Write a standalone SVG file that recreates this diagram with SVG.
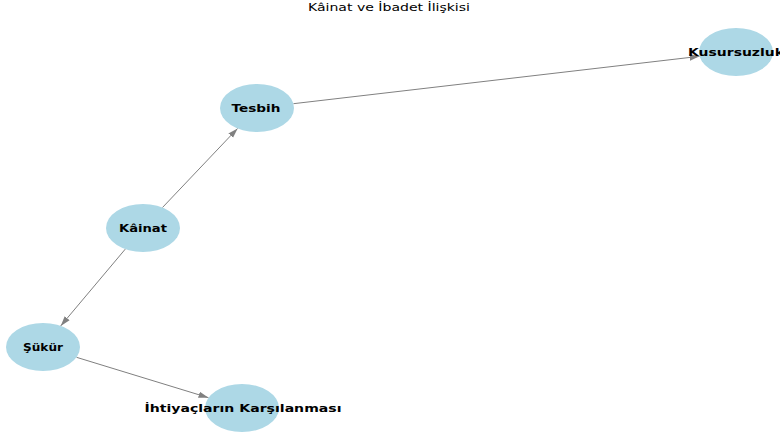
<svg xmlns="http://www.w3.org/2000/svg" width="780" height="437" viewBox="0 0 780 437">
<style>
.n{fill:#add8e6;}
.l{font-family:"DejaVu Sans",sans-serif;font-weight:bold;font-size:11px;fill:#000;text-anchor:middle;dominant-baseline:central;}
.t{font-family:"DejaVu Sans",sans-serif;font-size:11px;fill:#000;text-anchor:middle;}
.e{stroke:#808080;stroke-width:1;fill:none;marker-end:url(#a);}
</style>
<defs>
<marker id="a" markerWidth="10" markerHeight="8" refX="10" refY="4" orient="auto" markerUnits="userSpaceOnUse">
<path d="M0,0.8 L10,4 L0,7.2 Z" fill="#808080"/>
</marker>
</defs>
<rect width="780" height="437" fill="#fff"/>
<text class="t" x="389" y="11" textLength="162" lengthAdjust="spacingAndGlyphs">Kâinat ve İbadet İlişkisi</text>
<g id="edges">
<line class="e" x1="162.4" y1="207.6" x2="237.6" y2="128.4"/>
<line class="e" x1="293.4" y1="103.7" x2="699.6" y2="56.3"/>
<line class="e" x1="125.3" y1="249.1" x2="60.7" y2="325.9"/>
<line class="e" x1="76.5" y1="357.3" x2="208.5" y2="397.7"/>
</g>
<g id="kainat"><ellipse class="n" cx="143" cy="228" rx="37" ry="24"/><text class="l" x="143" y="228" textLength="48" lengthAdjust="spacingAndGlyphs">Kâinat</text></g>
<g id="tesbih"><ellipse class="n" cx="257" cy="108" rx="37" ry="24"/><text class="l" x="256" y="108" textLength="49" lengthAdjust="spacingAndGlyphs">Tesbih</text></g>
<g id="kusursuzluk"><ellipse class="n" cx="736" cy="52" rx="37" ry="24"/><text class="l" x="736" y="52" textLength="96" lengthAdjust="spacingAndGlyphs">Kusursuzluk</text></g>
<g id="sukur"><ellipse class="n" cx="43" cy="347" rx="37" ry="24"/><text class="l" x="43" y="347" textLength="40" lengthAdjust="spacingAndGlyphs">Şükür</text></g>
<g id="ihtiyac"><ellipse class="n" cx="242" cy="408" rx="37" ry="24"/><text class="l" x="243" y="408" textLength="197" lengthAdjust="spacingAndGlyphs">İhtiyaçların Karşılanması</text></g>
</svg>
